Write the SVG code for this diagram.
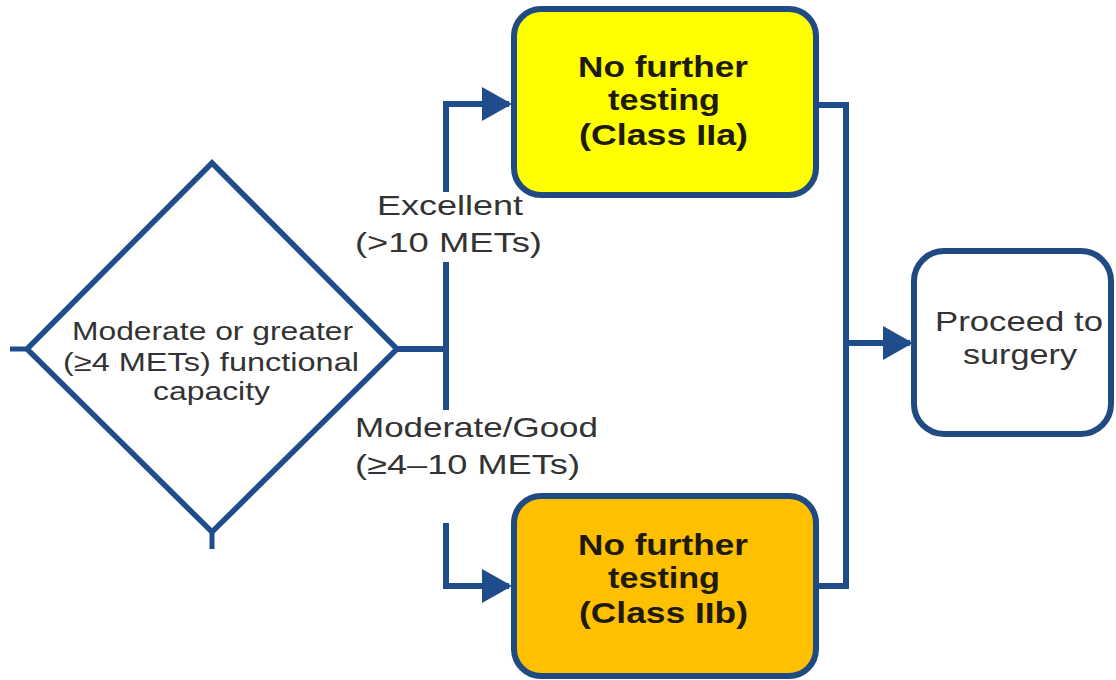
<svg xmlns="http://www.w3.org/2000/svg" width="1116" height="680" viewBox="0 0 1116 680">
  <style>
    .conn { fill: none; stroke: #1F4C8A; stroke-width: 6; stroke-linejoin: miter; }
    .stub { fill: none; stroke: #1F4C8A; stroke-width: 5; }
    .box { stroke: #1F4A82; stroke-width: 6; }
    .diamond { fill: #FFFFFF; stroke: #1F4C8A; stroke-width: 5.5; }
    .plain { font-family: "Liberation Sans", Arial, sans-serif; fill: #333333; }
    .bold { font-family: "Liberation Sans", Arial, sans-serif; font-weight: bold; fill: #1E1A10; }
  </style>
  <defs>
    <marker id="arrow" markerUnits="userSpaceOnUse" markerWidth="30" markerHeight="34" viewBox="0 0 30 34" refX="27" refY="17" orient="auto">
      <path d="M0,0 L30,17 L0,34 Z" fill="#1F4C8A"/>
    </marker>
  </defs>
  <rect x="0" y="0" width="1116" height="680" fill="#FFFFFF"/>

  <g id="connectors">
    <line class="stub" x1="10" y1="349" x2="28" y2="349"/>
    <line class="stub" x1="212" y1="530" x2="212" y2="549"/>
    <line class="conn" x1="396" y1="349" x2="449" y2="349"/>
    <path class="conn" d="M446,192 L446,104 L509,104" marker-end="url(#arrow)"/>
    <line class="conn" x1="446" y1="262" x2="446" y2="410"/>
    <path class="conn" d="M446,523 L446,586 L509,586" marker-end="url(#arrow)"/>
    <path class="conn" d="M816,105 L846,105 L846,586 L816,586"/>
    <line class="conn" x1="846" y1="343" x2="910" y2="343" marker-end="url(#arrow)"/>
  </g>

  <g id="node-capacity">
    <polygon class="diamond" points="212,163 397,349 212,532 27,349"/>
    <text class="plain" font-size="26" x="72" y="340" textLength="281" lengthAdjust="spacingAndGlyphs">Moderate or greater</text>
    <text class="plain" font-size="26" x="63" y="371" textLength="296" lengthAdjust="spacingAndGlyphs">(≥4 METs) functional</text>
    <text class="plain" font-size="26" x="153" y="400" textLength="117" lengthAdjust="spacingAndGlyphs">capacity</text>
  </g>

  <g id="label-excellent">
    <text class="plain" font-size="28" x="377" y="215" textLength="146" lengthAdjust="spacingAndGlyphs">Excellent</text>
    <text class="plain" font-size="28" x="355" y="252" textLength="187" lengthAdjust="spacingAndGlyphs">(&gt;10 METs)</text>
  </g>

  <g id="label-moderate">
    <text class="plain" font-size="28" x="355" y="437" textLength="243" lengthAdjust="spacingAndGlyphs">Moderate/Good</text>
    <text class="plain" font-size="28" x="355" y="474" textLength="225" lengthAdjust="spacingAndGlyphs">(≥4–10 METs)</text>
  </g>

  <g id="node-class-iia">
    <rect class="box" x="514" y="9" width="302" height="186" rx="27" ry="27" fill="#FFFF00"/>
    <text class="bold" font-size="30" x="578" y="77" textLength="170" lengthAdjust="spacingAndGlyphs">No further</text>
    <text class="bold" font-size="30" x="608" y="110" textLength="112" lengthAdjust="spacingAndGlyphs">testing</text>
    <text class="bold" font-size="30" x="579" y="145" textLength="169" lengthAdjust="spacingAndGlyphs">(Class IIa)</text>
  </g>

  <g id="node-class-iib">
    <rect class="box" x="514" y="496" width="302" height="180" rx="27" ry="27" fill="#FFC000"/>
    <text class="bold" font-size="30" x="578" y="555" textLength="170" lengthAdjust="spacingAndGlyphs">No further</text>
    <text class="bold" font-size="30" x="608" y="588" textLength="112" lengthAdjust="spacingAndGlyphs">testing</text>
    <text class="bold" font-size="30" x="579" y="623" textLength="169" lengthAdjust="spacingAndGlyphs">(Class IIb)</text>
  </g>

  <g id="node-surgery">
    <rect class="box" x="914" y="251" width="197" height="183" rx="30" ry="30" fill="#FFFFFF"/>
    <text class="plain" font-size="28" x="935" y="331" textLength="168" lengthAdjust="spacingAndGlyphs">Proceed to</text>
    <text class="plain" font-size="28" x="963" y="364" textLength="114" lengthAdjust="spacingAndGlyphs">surgery</text>
  </g>
</svg>
